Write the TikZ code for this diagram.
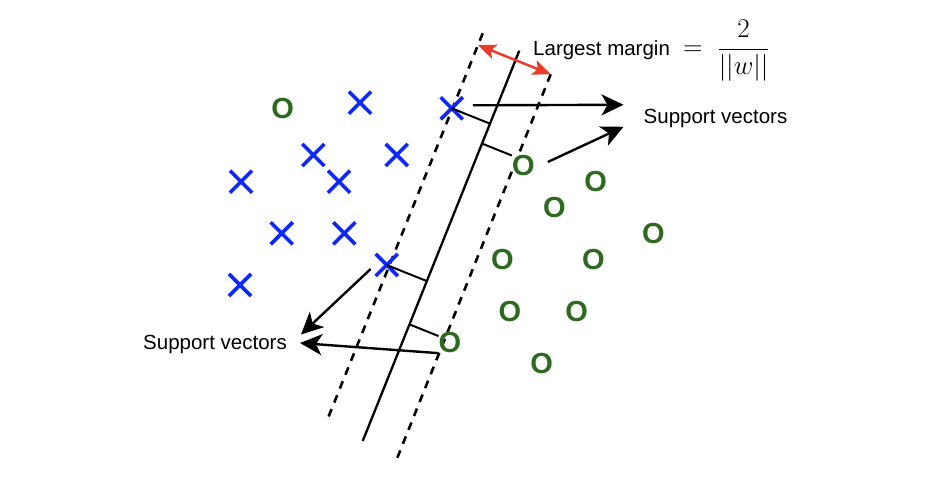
\RequirePackage{fix-cm}
\documentclass[tikz,border=0pt]{standalone}
\usepackage{amsmath}
\usepackage[no-math]{fontspec}
\setmainfont{Liberation Sans}
\usepackage{xcolor}
\usepackage{tikz}
\usetikzlibrary{calc,shapes.misc,arrows.meta}
\definecolor{xblue}{RGB}{12,40,250}
\definecolor{ogreen}{RGB}{45,105,30}
\definecolor{mred}{RGB}{234,60,40}

\begin{document}
\begin{tikzpicture}[x=1bp,y=-1bp,
    xmark/.style={cross out,draw=xblue,line width=3.6bp,minimum size=18.5bp,inner sep=0pt},
    omark/.style={text=ogreen,inner sep=0pt,font=\fontsize{29bp}{30bp}\selectfont\bfseries},
    lbl/.style={inner sep=0pt,font=\fontsize{20.5bp}{24bp}\selectfont},
    tick/.style={line width=2bp,black},
    svarrow/.style={line width=2.4bp,black,-{Stealth[length=22bp,width=21bp,inset=6bp]}},
    margarrow/.style={line width=2.5bp,mred,{Stealth[length=18bp,width=15bp,inset=4bp]}-{Stealth[length=18bp,width=15bp,inset=4bp]}}]
                          \useasboundingbox (0,0) rectangle (930,484);
                          \coordinate (hA) at (519.3,50.7);
                          \coordinate (hB) at (362.7,441);
                          \coordinate (lA) at (482.7,33.3);
                          \coordinate (lB) at (328.3,417.3);
                          \coordinate (rA) at (550.7,74.3);
                          \coordinate (rB) at (396.7,459.3);
                          \draw[line width=2.3bp,black](hA)--(hB);
                          \draw[line width=2.6bp,black,dash pattern=on 8bp off 7bp](lA)--(lB);
                          \draw[line width=2.6bp,black,dash pattern=on 8bp off 7bp](rA)--(rB);
                          \draw[margarrow]($(lA)!(rA)!(lB)$)--(rA);
                          \foreach \p [count=\i] in {(360,102.7),(451.7,108.3),(313.3,155),(396.7,155),(241,181.7),(339,181.7),(281.7,233.3),(344.3,233.3),(386.7,265),(240,285)}
                            \node[xmark] (x\i) at \p {};
                          \foreach \p [count=\i] in {(282.7,108.3),(523.3,166),(595.7,181.7),(554.3,207.3),(653.3,233.3),(502.3,259.3),(593.3,259.3),(510,311.7),(576.7,311.7),(450,342.7),(541.7,363.3)}
                            \node[omark] (o\i) at \p {O};
                          \draw[tick](x2.center)--($(hA)!(x2.center)!(hB)$);
                          \draw[tick](o2.north west)--($(hA)!(o2.north west)!(hB)$);
                          \draw[tick](x9.center)--($(hA)!(x9.center)!(hB)$);
                          \draw[tick](o10.150)--($(hA)!(o10.150)!(hB)$);
                          \node[lbl] (sv1) at (715.5,118.8) {Support vectors};
                          \node[lbl] (sv2) at (215,344) {Support vectors};
                          \node[lbl,anchor=base west] (margin) at (533,56) {Largest margin {\fontsize{27bp}{31bp}\selectfont$\;=\;\dfrac{2}{||w||}$}};
                          \draw[svarrow]([shift={(10bp,3bp)}]x2.east)--([shift={(-20bp,14bp)}]sv1.west);
                          \draw[svarrow]([shift={(13bp,4bp)}]o2.east)--([shift={(-20bp,-8bp)}]sv1.west);
                          \draw[svarrow]([shift={(-5bp,-4bp)}]x9.west)--([shift={(14bp,9.5bp)}]sv2.east);
                          \draw[svarrow](o10.south west)--([shift={(13bp,1bp)}]sv2.east);
                        \end{tikzpicture}
\end{document}
